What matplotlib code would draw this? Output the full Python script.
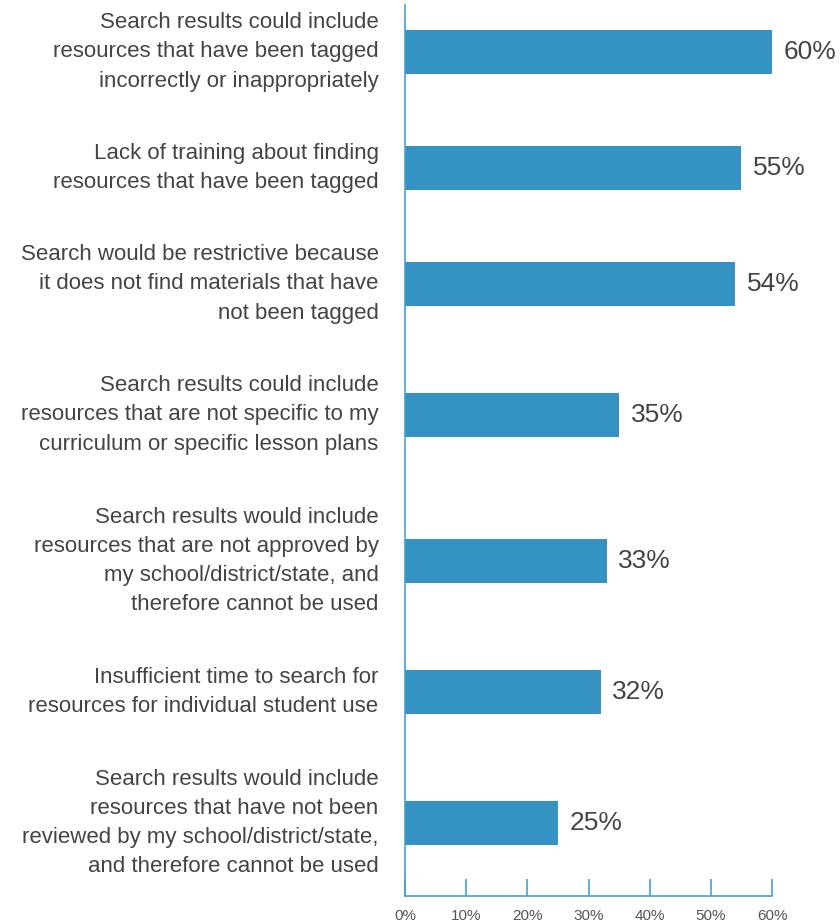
import matplotlib.pyplot as plt

plt.rcParams['font.family'] = ['Liberation Sans', 'DejaVu Sans']

labels = [
    "Search results could include\nresources that have been tagged\nincorrectly or inappropriately",
    "Lack of training about finding\nresources that have been tagged",
    "Search would be restrictive because\nit does not find materials that have\nnot been tagged",
    "Search results could include\nresources that are not specific to my\ncurriculum or specific lesson plans",
    "Search results would include\nresources that are not approved by\nmy school/district/state, and\ntherefore cannot be used",
    "Insufficient time to search for\nresources for individual student use",
    "Search results would include\nresources that have not been\nreviewed by my school/district/state,\nand therefore cannot be used",
]
values = [60, 55, 54, 35, 33, 32, 25]
xticks = [0, 10, 20, 30, 40, 50, 60]

bar_color = '#3593C3'
axis_color = '#4A9FCB'
text_color = '#444444'

# layout in pixel-like units: blocks of text separated by a constant gap
line_h = 30
gap = 41
lines = [lab.count('\n') + 1 for lab in labels]
positions = []
y = 7
for n in lines:
    positions.append(y + n * line_h / 2)
    y += n * line_h + gap

W, H = 840, 923
fig = plt.figure(figsize=(W / 100, H / 100), dpi=100)
ax = fig.add_axes([405 / W, (H - 896) / H, (772 - 405) / W, (896 - 5) / H])

ax.barh(positions, values, height=44, color=bar_color, zorder=2)
ax.set_xlim(0, 60)
ax.set_ylim(896, 5)

for p, v in zip(positions, values):
    ax.text(v + 1.9, p, f"{v}%", va='center', ha='left', fontsize=19, color=text_color)

ax.set_yticks(positions)
ax.set_yticklabels(labels, fontsize=16, color=text_color, linespacing=1.52,
                   multialignment='right', va='center')
ax.tick_params(axis='y', length=0, pad=19)

ax.set_xticks(xticks)
ax.set_xticklabels([f"{t}%" for t in xticks], fontsize=11, color='#555555')
ax.tick_params(axis='x', direction='in', length=12, width=1.2, color=axis_color, pad=9)

for s in ['top', 'right']:
    ax.spines[s].set_visible(False)
for s in ['left', 'bottom']:
    ax.spines[s].set_color(axis_color)
    ax.spines[s].set_linewidth(1.2)

fig.savefig('out.png', dpi=100)
